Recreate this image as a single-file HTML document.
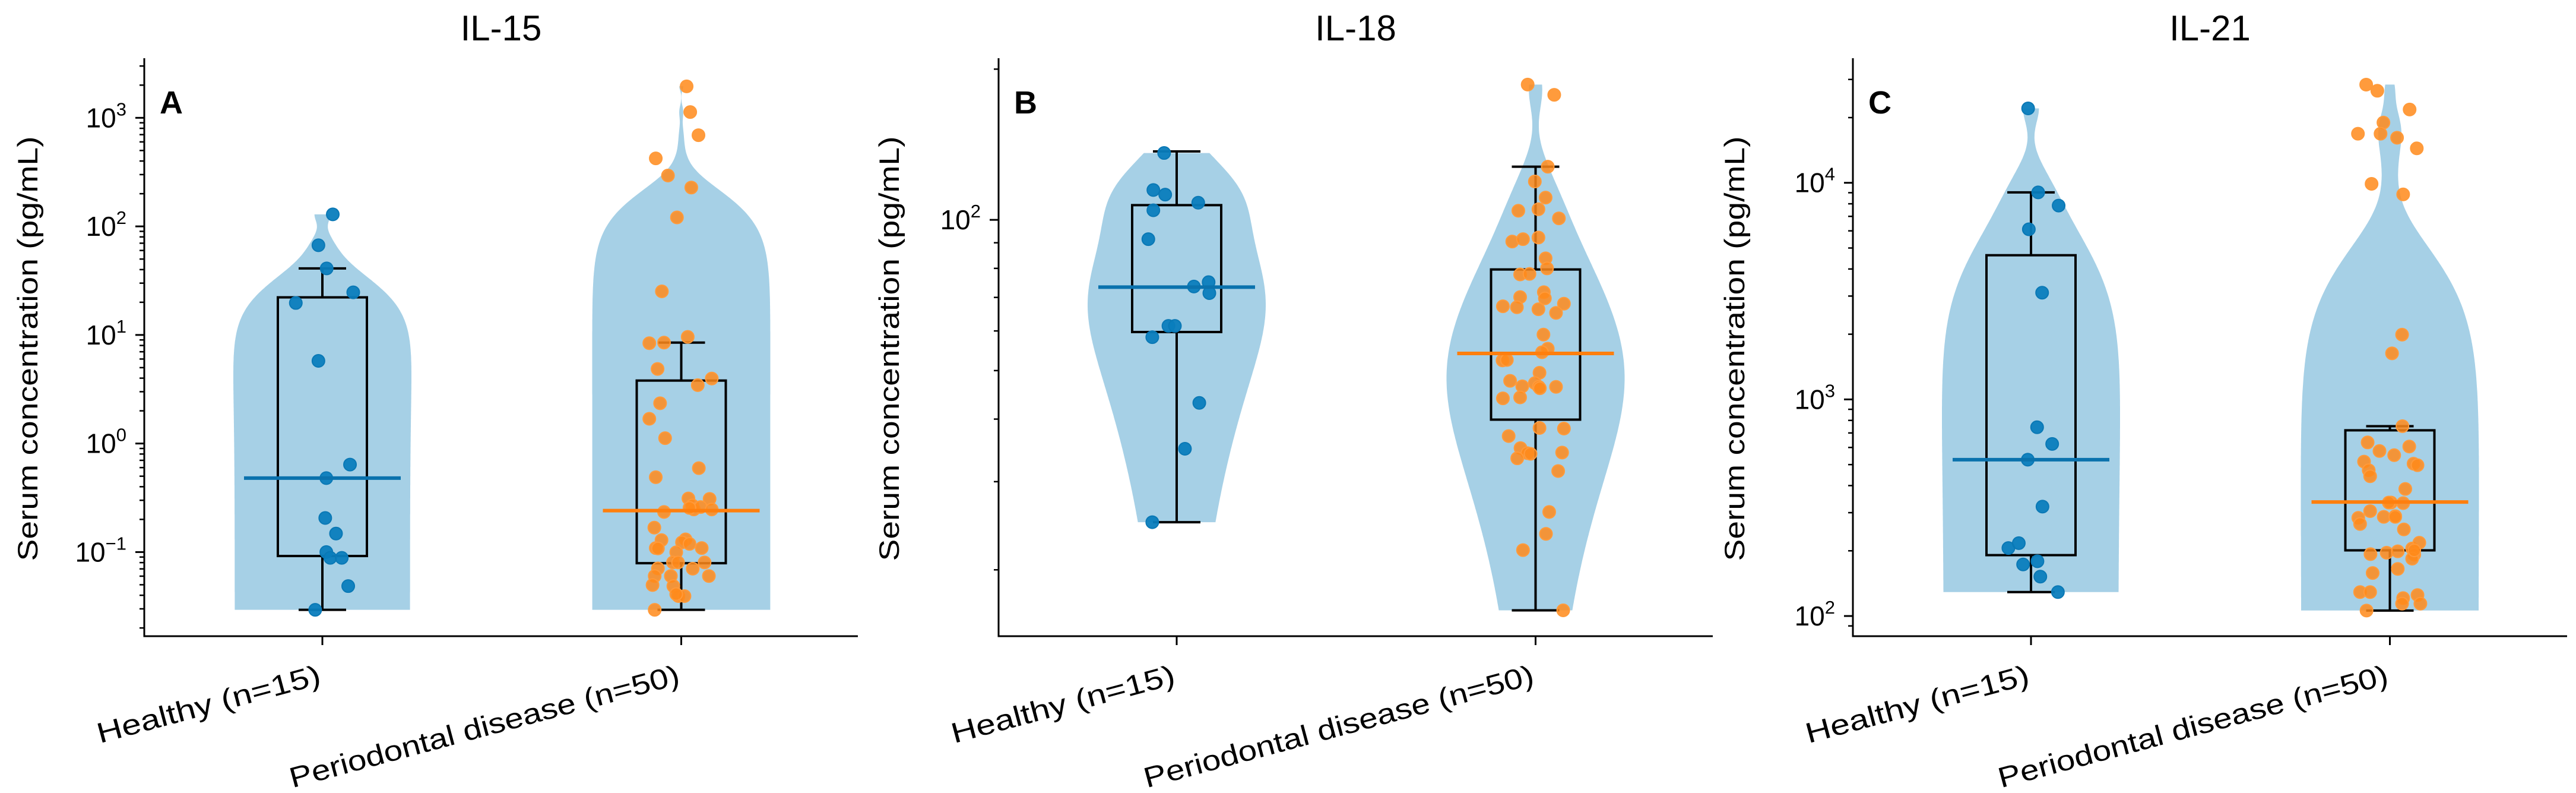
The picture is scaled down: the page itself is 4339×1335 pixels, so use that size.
<!DOCTYPE html>
<html><head><meta charset="utf-8"><style>
html,body{margin:0;padding:0;background:#fff;}
svg{display:block;font-family:"Liberation Sans","DejaVu Sans",sans-serif;}
</style></head><body>
<svg id="fig" width="4339" height="1335" viewBox="0 0 4339 1335" xmlns="http://www.w3.org/2000/svg"></svg>
<script>
// ---------- data ----------
const categories = ["Healthy (n=15)", "Periodontal disease (n=50)"];
const panelTitles = ["IL-15", "IL-18", "IL-21"];
const panelLetters = ["A", "B", "C"];

const il15Healthy = [129,67,41,24.7,19.7,5.77,0.64,0.48,0.206,0.148,0.1,0.0885,0.0885,0.0486,0.0294];
const il15HealthyJitter = [0.029,-0.011,0.012,0.086,-0.074,-0.011,0.077,0.011,0.008,0.038,0.011,0.022,0.054,0.072,-0.020];
const il15Pd = [1950,1130,692,423,294,228,121,25.2,9.6,8.4,8.5,4.86,3.97,3.45,2.35,1.69,1.12,0.593,0.489,0.312,0.309,0.234,0.269,0.247,0.260,0.247,0.168,0.129,0.131,0.123,0.119,0.109,0.108,0.109,0.0995,0.0803,0.0803,0.0803,0.0707,0.0703,0.0602,0.0602,0.0602,0.0497,0.0486,0.0393,0.0393,0.041,0.0294,0.255];
const il15PdJitter = [0.015,0.025,0.048,-0.071,-0.037,0.028,-0.012,-0.054,0.018,-0.089,-0.048,-0.066,0.085,0.046,-0.059,-0.089,-0.045,0.049,-0.071,0.020,0.079,-0.048,0.031,0.035,0.054,0.085,-0.075,-0.055,0.012,0.002,0.023,-0.071,-0.065,0.057,-0.014,-0.023,-0.009,0.065,-0.065,0.032,-0.074,-0.029,0.077,-0.080,-0.022,-0.008,0.009,-0.014,-0.074,0.023];

const il18Healthy = [136,114.7,112.3,108.2,104.5,91.5,73.6,75.1,71.4,61.4,61.4,58.3,43.1,34.9,24.9];
const il18HealthyJitter = [-0.035,-0.065,-0.032,0.060,-0.065,-0.079,0.048,0.089,0.091,-0.023,-0.005,-0.068,0.063,0.023,-0.068];
const il18Pd = [186.3,177.7,127.7,119.3,110.8,104.3,105.0,100.7,90.5,91.5,92.2,83.8,80.0,77.8,78.0,71.7,69.7,70.1,67.2,66.9,66.3,68.0,65.2,59.0,55.3,52.4,52.5,49.5,47.7,46.5,47.2,46.4,46.1,46.4,44.0,44.2,38.4,38.3,37.0,35.0,34.2,34.1,34.3,33.4,31.5,26.1,23.6,21.9,16.6,54.4];
const il18PdJitter = [-0.022,0.052,0.034,-0.002,0.028,-0.048,0.008,0.065,-0.065,-0.035,0.008,0.028,0.032,-0.043,-0.017,0.023,0.026,-0.043,-0.091,-0.052,0.008,0.079,0.057,0.022,0.034,-0.092,-0.080,0.011,-0.071,-0.037,-0.002,0.009,0.012,0.057,-0.091,-0.043,0.011,0.079,-0.075,-0.042,-0.023,-0.014,0.074,-0.051,0.063,0.038,0.029,-0.035,0.077,0.018];

const il21Healthy = [22050,9030,7850,6100,3110,744,623,527,320,206,217,179,173,152,129];
const il21HealthyJitter = [-0.008,0.020,0.077,-0.006,0.031,0.017,0.059,-0.009,0.032,-0.063,-0.034,0.018,-0.022,0.026,0.075];
const il21Pd = [28400,26600,21800,18970,16850,16850,16140,14420,9890,8840,1991,1632,752,633,606,578,553,516,505,497,471,442,386,334,332,305,284,287,289,266,251,193,196,199,205,192,218,184,158,165,129,129,125,121,114,114,106,287,201,334];
const il21PdJitter = [-0.066,-0.035,0.055,-0.018,-0.089,-0.026,0.020,0.075,-0.051,0.037,0.034,0.006,0.035,-0.062,0.054,-0.029,0.012,-0.072,0.066,0.077,-0.059,-0.055,0.043,0.003,0.037,-0.055,-0.088,-0.017,0.015,-0.083,0.039,-0.054,-0.009,0.022,0.062,0.068,0.082,0.062,-0.048,0.022,-0.083,-0.055,0.077,0.037,0.085,0.034,-0.065,0.015,0.068,-0.003];

// box stats: [whiskerLow, q1, median, q3, whiskerHigh]
const il15HealthyBox = [0.0294,0.092,0.48,22.2,41];
const il15PdBox = [0.0294,0.079,0.241,3.8,8.5];
const il18HealthyBox = [24.9,59.7,73.4,107,137];
const il18PdBox = [16.6,39.9,54.1,79.6,127.7];
const il21HealthyBox = [129,191,527,4630,9030];
const il21PdBox = [106,201,336,720,752];

// y-axis log ranges [min, max] and tick values
const il15YRange = [0.0168, 3540];
const il18YRange = [14.74, 210.3];
const il21YRange = [80.7, 37600];
const il15MajorTicks = [-1,0,1,2,3];
const il18MajorTicks = [2];
const il21MajorTicks = [2,3,4];

// ---------- drawing ----------
const NS = "http://www.w3.org/2000/svg";
const svg = document.getElementById("fig");
function mk(tag, attrs, parent){
  const e = document.createElementNS(NS, tag);
  for (const k in attrs) e.setAttribute(k, attrs[k]);
  (parent||svg).appendChild(e);
  return e;
}
const BLUE_VIOLIN = "#a6d0e6", BLUE = "#0a7dbd", ORANGE = "#ff8a1a";
const TOP = 98, BOTTOM = 1071;

const panels = [
  {axisX:243, rightX:1445, yr:il15YRange, majors:il15MajorTicks, groups:[[il15Healthy,il15HealthyJitter,il15HealthyBox],[il15Pd,il15PdJitter,il15PdBox]]},
  {axisX:1682, rightX:2885, yr:il18YRange, majors:il18MajorTicks, groups:[[il18Healthy,il18HealthyJitter,il18HealthyBox],[il18Pd,il18PdJitter,il18PdBox]]},
  {axisX:3121, rightX:4324, yr:il21YRange, majors:il21MajorTicks, groups:[[il21Healthy,il21HealthyJitter,il21HealthyBox],[il21Pd,il21PdJitter,il21PdBox]]}
];

// Gaussian KDE (Scott's rule) in linear data space
function kde(vals, t){
  const n = vals.length;
  const mean = vals.reduce((a,b)=>a+b,0)/n;
  const sd = Math.sqrt(vals.reduce((a,b)=>a+(b-mean)*(b-mean),0)/(n-1));
  const bw = sd*Math.pow(n,-0.2);
  let s = 0;
  for (const v of vals){ const z=(t-v)/bw; s += Math.exp(-0.5*z*z); }
  return s;
}

panels.forEach((p, pi) => {
  const g = mk("g", {});
  
  
  const lmin = Math.log10(p.yr[0]), lmax = Math.log10(p.yr[1]);
  const y = v => BOTTOM - (Math.log10(v)-lmin)/(lmax-lmin)*(BOTTOM-TOP);
  const x = c => p.axisX + 300 + c*604.5;

  p.groups.forEach((grp, ci) => {
    const vals = grp[0];
    const lo = Math.log10(Math.min(...vals)), hi = Math.log10(Math.max(...vals));
    const N = 300, dens = [];
    for (let i=0;i<=N;i++){ const t = lo+(hi-lo)*i/N; dens.push([t,kde(vals,Math.pow(10,t))]); }
    const mx = Math.max(...dens.map(d=>d[1]));
    const w = d => 150*d/mx;
    const cx = x(ci);
    const ly = t => BOTTOM-(t-lmin)/(lmax-lmin)*(BOTTOM-TOP);
    const pts = dens.map(d => [cx + w(d[1]), ly(d[0])]);
    const pts2 = dens.slice().reverse().map(d => [cx - w(d[1]), ly(d[0])]);
    const poly = mk("polygon", {points: pts.concat(pts2).map(q=>q[0].toFixed(1)+","+q[1].toFixed(1)).join(" "), fill: BLUE_VIOLIN}, g);
    
    
  });

  p.groups.forEach((grp, ci) => {
    const b = grp[2], cx = x(ci);
    const bg = mk("g", {stroke:"#000", "stroke-width":4, fill:"none"}, g);
    
    
    mk("rect", {x: cx-75, y: y(b[3]), width: 150, height: y(b[1])-y(b[3])}, bg);
    mk("line", {x1:cx, x2:cx, y1:y(b[3]), y2:y(b[4])}, bg);
    mk("line", {x1:cx, x2:cx, y1:y(b[1]), y2:y(b[0])}, bg);
    mk("line", {x1:cx-40, x2:cx+40, y1:y(b[4]), y2:y(b[4])}, bg);
    mk("line", {x1:cx-40, x2:cx+40, y1:y(b[0]), y2:y(b[0])}, bg);
  });

  p.groups.forEach((grp, ci) => {
    const vals = grp[0], jit = grp[1];
    const col = ci===0 ? BLUE : ORANGE;
    vals.forEach((v, i) => {
      const c = mk("circle", {cx: x(ci + jit[i]), cy: y(v), r: 10.5, fill: col, "fill-opacity": ci===0?0.95:0.85, stroke: ci===0?"#0a78b5":"#ff9a3a", "stroke-width": 2}, g);
      
      
    });
  });

  p.groups.forEach((grp, ci) => {
    const cx = x(ci);
    const m = mk("line", {x1:cx-132, x2:cx+132, y1:y(grp[2][2]), y2:y(grp[2][2]), stroke: ci===0?"#0a72ad":"#ff7f0e", "stroke-width":6}, g);
    
    
  });

  const ax = mk("g", {stroke:"#000", "stroke-width":3}, g);
  
  
  mk("line", {x1:p.axisX, x2:p.axisX, y1:TOP, y2:BOTTOM+1.5}, ax);
  mk("line", {x1:p.axisX-1.5, x2:p.rightX, y1:BOTTOM, y2:BOTTOM}, ax);
  for (let d = Math.floor(lmin); d <= Math.ceil(lmax); d++){
    for (let k=1;k<=9;k++){
      const v = k*Math.pow(10,d), lv = Math.log10(v);
      if (lv < lmin || lv > lmax) continue;
      const yy = y(v);
      mk("line", {x1:p.axisX, x2:p.axisX-(k===1?15:8), y1:yy, y2:yy, "stroke-width": k===1?3:2.5}, ax);
    }
  }
  p.majors.forEach(e => {
    const yy = y(Math.pow(10,e));
    const t = mk("text", {x: p.axisX-30, y: yy+16, "text-anchor":"end", "font-size":46, fill:"#000"}, g);
    
    
    const a = mk("tspan", {}, t); a.textContent = "10";
    const b = mk("tspan", {dy: -20, "font-size": 31}, t); b.textContent = (e<0?"\u2212":"") + Math.abs(e);
  });
  categories.forEach((cat, ci) => {
    const cx = x(ci);
    mk("line", {x1:cx, x2:cx, y1:BOTTOM, y2:BOTTOM+15}, ax);
    const ay = BOTTOM + 80;
    const t = mk("text", {x: cx, y: ay, "text-anchor":"end", "font-size":48, fill:"#000", textLength: ci===0?388:678, lengthAdjust:"spacingAndGlyphs", transform:`rotate(-15 ${cx} ${ay})`}, g);
    
    
    t.textContent = cat;
  });
  const yl = mk("text", {x:0, y:0, "text-anchor":"middle", "font-size":47, fill:"#000", textLength:715, lengthAdjust:"spacingAndGlyphs", transform:`translate(${p.axisX-180+ (pi===0?0:(pi===1?12:-3))} 587) rotate(-90)`}, g);
  
  
  yl.textContent = "Serum concentration (pg/mL)";
  const ti = mk("text", {x:(p.axisX+p.rightX)/2, y:68, "text-anchor":"middle", "font-size":60, fill:"#000"}, g);
  
  
  ti.textContent = panelTitles[pi];
  const le = mk("text", {x:p.axisX+26, y:191, "font-size":54, "font-weight":"bold", fill:"#000"}, g);
  
  
  le.textContent = panelLetters[pi];
});
</script>
</body></html>
